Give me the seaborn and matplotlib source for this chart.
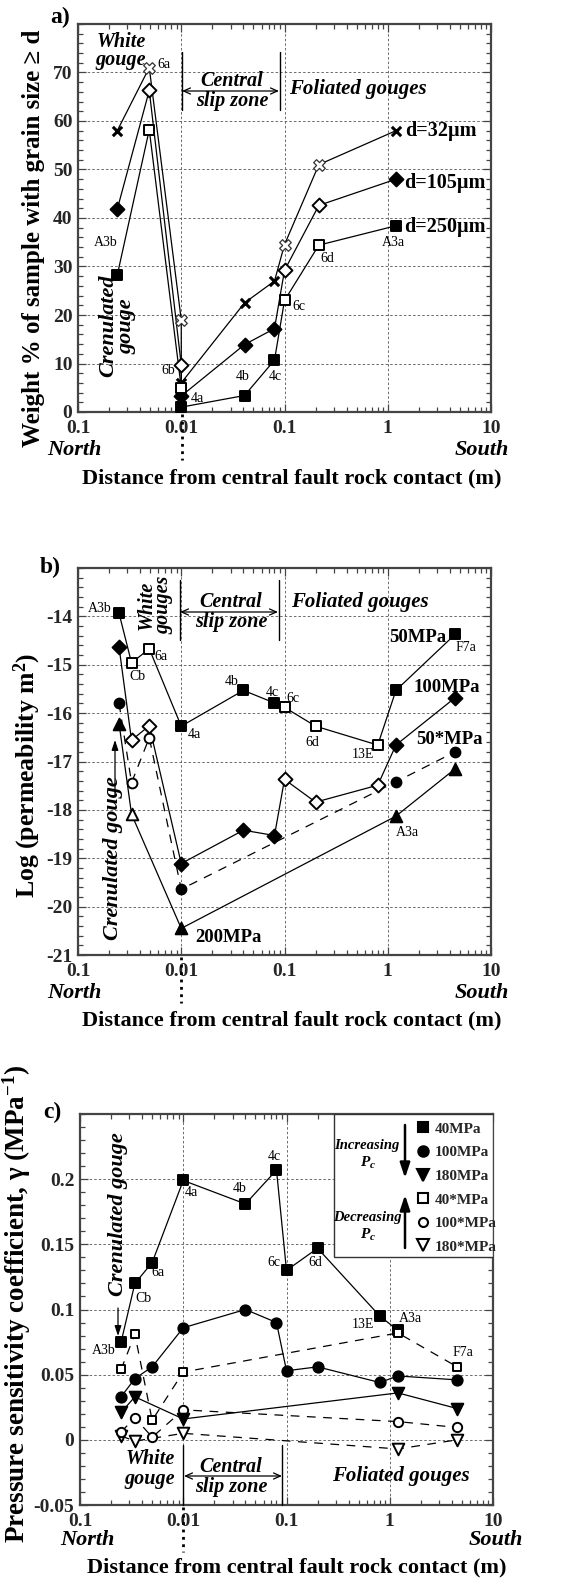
import numpy as np
import pandas as pd
import matplotlib
matplotlib.use("Agg")
import matplotlib.pyplot as plt
import seaborn as sns
from matplotlib.patches import Rectangle, FancyArrowPatch
from matplotlib.lines import Line2D
from matplotlib.ticker import LogLocator, NullFormatter, MultipleLocator

nan = np.nan

# ---------------- data ----------------
x_tick_values = [0.001, 0.01, 0.1, 1, 10]
x_tick_labels = ["0.1", "0.01", "0.1", "1", "10"]

# (a) grain size distribution
samples_a = ["A3b", "6a", "6b", "4a", "4b", "4c", "6c", "6d", "A3a"]
dist_a = [0.0024, 0.0049, 0.01, 0.01, 0.041, 0.080, 0.100, 0.215, 1.2]
open_a = [False, True, True, False, False, False, True, True, False]
wt_d32 = [58.0, 71.0, 19.0, 6.0, 22.5, 27.0, 34.5, 51.0, 58.0]
wt_d105 = [41.8, 66.3, 9.7, 3.3, 13.9, 17.2, 29.2, 42.6, 48.0]
wt_d250 = [28.2, 58.2, 5.0, 1.0, 3.4, 10.7, 23.0, 34.4, 38.4]
yticks_a = [0, 10, 20, 30, 40, 50, 60, 70]

# (b) permeability
samples_b = ["A3b", "Cb", "6a", "4a", "4b", "4c", "6c", "6d", "13E", "A3a", "F7a"]
dist_b = [0.0025, 0.0033, 0.0049, 0.01, 0.040, 0.080, 0.10, 0.20, 0.80, 1.2, 4.5]
open_b = [False, True, True, False, False, False, True, True, True, False, False]
logk_50 = [-13.94, -14.96, -14.67, -16.27, -15.53, -15.79, -15.88, -16.27, -16.66, -15.53, -14.37]
logk_100 = [-14.64, -16.56, -16.26, -19.11, -18.42, -18.53, -17.37, -17.84, -17.49, -16.66, -15.68]
logk_50s = [-15.80, -17.44, -16.51, -19.64, nan, nan, nan, nan, nan, -17.42, -16.80]
logk_200 = [-16.22, -18.09, nan, -20.45, nan, nan, nan, nan, nan, -18.13, -17.15]
yticks_b = [-21, -20, -19, -18, -17, -16, -15, -14]

# (c) pressure sensitivity coefficient
samples_c = ["A3b", "Cb", "6a", "4a", "4b", "4c", "6c", "6d", "13E", "A3a", "F7a"]
dist_c = [0.0025, 0.0034, 0.0050, 0.01, 0.040, 0.080, 0.10, 0.20, 0.80, 1.2, 4.5]
gam_40 = [0.075, 0.120, 0.136, 0.199, 0.181, 0.207, 0.130, 0.147, 0.095, 0.084, nan]
gam_100 = [0.033, 0.047, 0.056, 0.086, 0.100, 0.090, 0.053, 0.056, 0.044, 0.049, 0.046]
gam_180 = [0.021, 0.033, nan, 0.016, nan, nan, nan, nan, nan, 0.036, 0.024]
gam_40s = [0.054, 0.081, 0.015, 0.052, nan, nan, nan, nan, nan, 0.082, 0.056]
gam_100s = [0.006, 0.017, 0.002, 0.023, nan, nan, nan, nan, nan, 0.014, 0.0095]
gam_180s = [0.003, -0.001, nan, 0.005, nan, nan, nan, nan, nan, -0.007, 0.000]
yticks_c = [-0.05, 0, 0.05, 0.1, 0.15, 0.2]
ytick_labels_c = ["-0.05", "0", "0.05", "0.1", "0.15", "0.2"]
legend_c = ["40MPa", "100MPa", "180MPa", "40*MPa", "100*MPa", "180*MPa"]

# ---------------- style ----------------
sns.set_style("ticks")
plt.rcParams["font.family"] = ["Liberation Serif", "DejaVu Serif"]
plt.rcParams["font.weight"] = "bold"
plt.rcParams["mathtext.fontset"] = "custom"
plt.rcParams["mathtext.rm"] = "Liberation Serif:bold"
plt.rcParams["mathtext.bf"] = "Liberation Serif:bold"
plt.rcParams["mathtext.it"] = "Liberation Serif:italic:bold"

W, H = 584, 1578
fig = plt.figure(figsize=(W / 100, H / 100), dpi=100)
fig.patch.set_facecolor("white")


def P(x, y):
    return (x / W, 1 - y / H)


def ftext(x, y, s, size, style="normal", weight="bold", rot=0, ha="center", va="center", ls=1.0):
    fig.text(x / W, 1 - y / H, s, fontsize=size, fontstyle=style, fontweight=weight,
             rotation=rot, ha=ha, va=va, color="black", linespacing=ls, multialignment="center")


def fline(x1, y1, x2, y2, lw=1.0, ls="-"):
    fig.add_artist(Line2D([x1 / W, x2 / W], [1 - y1 / H, 1 - y2 / H], transform=fig.transFigure,
                          color="black", lw=lw, ls=ls))


def farrow(x1, y1, x2, y2, style, lw=1.0, ms=10):
    fig.add_artist(FancyArrowPatch(P(x1, y1), P(x2, y2), transform=fig.transFigure,
                                   arrowstyle=style, mutation_scale=ms, lw=lw, color="black",
                                   shrinkA=0, shrinkB=0))


def setup(ax, ylim, yticks, ylabels, yminor):
    ax.set_xscale("log")
    ax.set_xlim(1e-3, 10)
    ax.set_ylim(*ylim)
    ax.set_xticks(x_tick_values)
    ax.set_xticklabels(x_tick_labels)
    ax.xaxis.set_minor_locator(LogLocator(base=10, subs=np.arange(2, 10), numticks=20))
    ax.xaxis.set_minor_formatter(NullFormatter())
    ax.set_yticks(yticks)
    ax.set_yticklabels(ylabels)
    ax.yaxis.set_minor_locator(MultipleLocator(yminor))
    ax.tick_params(which="both", direction="in", top=True, right=True, color="#444", width=0.9)
    ax.tick_params(which="major", length=6, labelsize=14)
    ax.tick_params(axis="x", which="major", pad=6)
    ax.tick_params(axis="y", which="major", pad=4)
    ax.tick_params(which="minor", length=3.5)
    ax.set_axisbelow(True)
    ax.grid(True, which="major", color="#555", ls=(0, (3, 2.5)), lw=0.6)
    for sp in ax.spines.values():
        sp.set_linewidth(1.6)
        sp.set_color("#444")
    ax.set_xlabel("")
    ax.set_ylabel("")


def draw_series(ax, x, y, marker, size, open_flags, ls="-", lw=0.9, mew=1.4, open_face="white"):
    df = pd.DataFrame({"x": x, "y": y, "open": open_flags}).dropna(subset=["y"])
    sns.lineplot(data=df, x="x", y="y", ax=ax, color="black", linewidth=lw, linestyle=ls,
                 sort=False, estimator=None, zorder=2, legend=False)
    for is_open, sub in df.groupby("open"):
        if marker == "x":
            if is_open:
                sns.scatterplot(data=sub, x="x", y="y", ax=ax, marker="X", s=size + 25,
                                color="white", edgecolor="#333", linewidth=0.9, zorder=3, legend=False)
            else:
                sns.scatterplot(data=sub, x="x", y="y", ax=ax, marker="x", s=size,
                                color="black", linewidth=2.2, zorder=3, legend=False)
        else:
            sns.scatterplot(data=sub, x="x", y="y", ax=ax, marker=marker, s=size,
                            color=open_face if is_open else "black", edgecolor="black",
                            linewidth=mew, zorder=3, legend=False)
    ax.set_xlabel("")
    ax.set_ylabel("")


DASH = (0, (7, 6))
ARROW2 = "<->,head_length=0.5,head_width=0.22"
XLABEL = "Distance from central fault rock contact (m)"

# ---------------- panel a ----------------
ax_a = fig.add_axes([78 / W, 1 - 412 / H, 413 / W, 388 / H])
ax_a.set_xscale("log")
draw_series(ax_a, dist_a, wt_d32, "x", 45, open_a)
draw_series(ax_a, dist_a, wt_d105, "D", 50, open_a)
draw_series(ax_a, dist_a, wt_d250, "s", 45, open_a)
setup(ax_a, (0, 80), yticks_a, [str(v) for v in yticks_a], 2)

ftext(60, 17, "a)", 17)
ftext(34, 238, "Weight % of sample with grain size \u2265 d", 18, rot=90)
ftext(121, 51, "White\ngouge", 14.5, style="italic", ls=0.85)
ftext(232, 91, "Central\nslip zone", 14.5, style="italic", ls=1.0)
farrow(182, 91, 279, 91, ARROW2, lw=0.9, ms=10)
fline(181.5, 52, 181.5, 110)
fline(280, 52, 280, 110)
ftext(358, 89, "Foliated gouges", 15, style="italic")
ftext(405, 131, "d=32\u00b5m", 14.5, ha="left")
ftext(404, 183, "d=105\u00b5m", 14.5, ha="left")
ftext(404, 227, "d=250\u00b5m", 14.5, ha="left")
ftext(117, 326, "Crenulated\ngouge", 16, style="italic", rot=90, ls=0.9)
for name, (xp, yp) in {"A3b": (106, 243), "6a": (164, 65), "6b": (168, 371), "4a": (197, 399),
                       "4b": (243, 377), "4c": (275, 377), "6c": (299, 306), "6d": (327, 258),
                       "A3a": (393, 243)}.items():
    ftext(xp, yp, name, 10, weight="normal")
ftext(74, 450, "North", 16, style="italic")
ftext(482, 450, "South", 16, style="italic")
ftext(292, 478, XLABEL, 16)
fline(181.5, 414, 181.5, 460, lw=2, ls=":")

# ---------------- panel b ----------------
ax_b = fig.add_axes([78 / W, 1 - 955 / H, 413 / W, 387 / H])
ax_b.set_xscale("log")
draw_series(ax_b, dist_b, logk_200, "^", 70, open_b)
draw_series(ax_b, dist_b, logk_50s, "o", 50, open_b, ls=DASH)
draw_series(ax_b, dist_b, logk_100, "D", 50, open_b)
draw_series(ax_b, dist_b, logk_50, "s", 45, open_b)
setup(ax_b, (-21, -13), yticks_b, [str(v) for v in yticks_b], 0.2)

ftext(50, 567, "b)", 17)
ftext(27, 775, "Log (permeability m$^{2}$)", 18.5, rot=90)
ftext(155, 605, "White\ngouges", 14.5, style="italic", rot=90, ls=0.8)
ftext(231, 612, "Central\nslip zone", 14.5, style="italic", ls=1.0)
farrow(180, 612, 278, 612, ARROW2, lw=0.9, ms=10)
fline(180, 580, 180, 640)
fline(279, 580, 279, 640)
ftext(360, 602, "Foliated gouges", 15, style="italic")
ftext(418, 637, "50MPa", 13.5)
ftext(447, 687, "100MPa", 13.5)
ftext(449, 739, "50*MPa", 13.5)
ftext(228, 937, "200MPa", 13.5)
ftext(113, 858, "Crenulated gouge", 16, style="italic", rot=90)
farrow(115, 795, 115, 740, "-|>,head_length=0.6,head_width=0.2", lw=0.9, ms=10)
for name, (xp, yp) in {"A3b": (100, 609), "Cb": (137, 677), "6a": (161, 657), "4a": (194, 734),
                       "4b": (232, 681), "4c": (272, 692), "6c": (293, 698), "6d": (312, 743),
                       "13E": (363, 754), "F7a": (466, 648), "A3a": (407, 832)}.items():
    ftext(xp, yp, name, 10, weight="normal")
ftext(74, 993, "North", 16, style="italic")
ftext(482, 993, "South", 16, style="italic")
ftext(292, 1020, XLABEL, 16)
fline(180.5, 957, 180.5, 1003, lw=2, ls=":")

# ---------------- panel c ----------------
ax_c = fig.add_axes([80 / W, 1 - 1505 / H, 413 / W, 391 / H])
ax_c.set_xscale("log")
c_closed = [False] * len(dist_c)
c_open = [True] * len(dist_c)
draw_series(ax_c, dist_c, gam_180s, "v", 70, c_open, ls=DASH)
draw_series(ax_c, dist_c, gam_100s, "o", 45, c_open, ls=DASH)
draw_series(ax_c, dist_c, gam_180, "v", 70, c_closed)
draw_series(ax_c, dist_c, gam_100, "o", 55, c_closed)
draw_series(ax_c, dist_c, gam_40, "s", 45, c_closed)
draw_series(ax_c, dist_c, gam_40s, "s", 40, c_open, ls=DASH)
setup(ax_c, (-0.05, 0.25), yticks_c, ytick_labels_c, 0.01)

# legend box
x0 = (334 - 80) / 413
y0 = (1505 - 1257) / 391
ax_c.add_patch(Rectangle((x0, y0), 1 - x0, 1 - y0, transform=ax_c.transAxes,
                         facecolor="white", edgecolor="#333", lw=1.0, zorder=4))
styles = [("s", "black", 7), ("o", "black", 7.5), ("v", "black", 9),
          ("s", "white", 6.5), ("o", "white", 6.5), ("v", "white", 9)]
handles = [Line2D([], [], ls="none", marker=m, ms=ms, mfc=fc, mec="black", mew=1.5)
           for (m, fc, ms) in styles]
leg = ax_c.legend(handles, legend_c, loc="upper left", bbox_to_anchor=P(415, 1122),
                  bbox_transform=fig.transFigure, frameon=False,
                  prop=dict(family="Liberation Serif", weight="bold", size=11),
                  handlelength=1.0, handletextpad=0.3, labelspacing=0.65,
                  borderpad=0, borderaxespad=0)
leg.set_zorder(6)
ftext(367, 1145, "Increasing", 10.5, style="italic")
ftext(365, 1162, "P", 11, style="italic")
ftext(372, 1166, "c", 8, style="italic")
ftext(367, 1218, "Decreasing", 10.5, style="italic")
ftext(365, 1234, "P", 11, style="italic")
ftext(372, 1238, "c", 8, style="italic")
farrow(405, 1125, 405, 1178, "-|>,head_length=0.9,head_width=0.3", lw=1.8, ms=10)
farrow(405, 1248, 405, 1195, "-|>,head_length=0.9,head_width=0.3", lw=1.8, ms=10)

ftext(52, 1112, "c)", 17)
ftext(17, 1304, "Pressure sensitivity coefficient, \u03b3 (MPa$^{-1}$)", 19.5, rot=90)
ftext(118, 1214, "Crenulated gouge", 16, style="italic", rot=90)
farrow(118, 1308, 118, 1336, "-|>,head_length=0.6,head_width=0.2", lw=0.9, ms=10)
ftext(150, 1469, "White\ngouge", 14.5, style="italic", ls=0.95)
ftext(231, 1477, "Central\nslip zone", 14.5, style="italic", ls=0.95)
farrow(184, 1476, 282, 1476, ARROW2, lw=0.9, ms=10)
fline(183, 1445, 183, 1505)
fline(282, 1445, 282, 1505)
ftext(401, 1476, "Foliated gouges", 15, style="italic")
for name, (xp, yp) in {"A3b": (104, 1350), "Cb": (143, 1299), "6a": (158, 1273), "4a": (191, 1193),
                       "4b": (240, 1189), "4c": (274, 1156), "6c": (274, 1262), "6d": (315, 1262),
                       "13E": (363, 1325), "A3a": (410, 1318), "F7a": (463, 1352)}.items():
    ftext(xp, yp, name, 10, weight="normal")
ftext(87, 1540, "North", 16, style="italic")
ftext(496, 1540, "South", 16, style="italic")
ftext(297, 1567, XLABEL, 16)
fline(183, 1507, 183, 1552, lw=2, ls=":")

fig.savefig("out.png", dpi=100, facecolor="white")
